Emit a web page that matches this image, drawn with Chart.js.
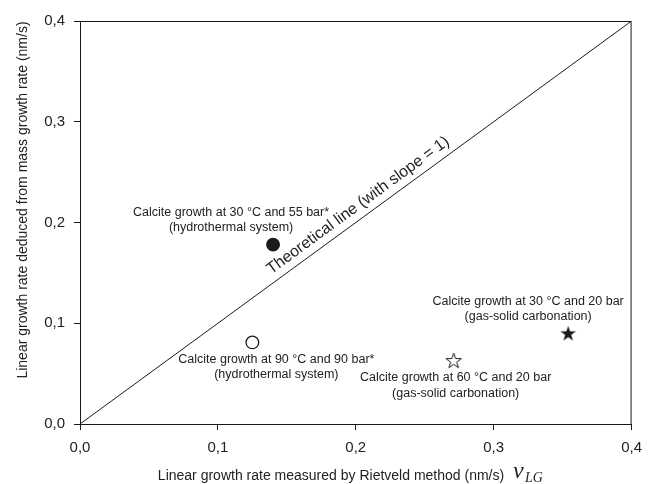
<!DOCTYPE html>
<html>
<head>
<meta charset="utf-8">
<script src="https://cdn.jsdelivr.net/npm/chart.js@4.4.0/dist/chart.umd.min.js"></script>
<style>
  html, body { margin: 0; padding: 0; background: #fff; }
  #wrap { width: 651px; height: 484px; }
</style>
</head>
<body>
<div id="wrap"><canvas id="chart" width="651" height="484"></canvas></div>
<script>
// data
const xTicks = [0, 0.1, 0.2, 0.3, 0.4];
const yTicks = [0, 0.1, 0.2, 0.3, 0.4];
const theoryX = [0, 0.4];
const theoryY = [0, 0.4];

const sampleX = [0.140, 0.125, 0.271, 0.354];
const sampleY = [0.178, 0.081, 0.063, 0.090];
const sampleLabels = [
    ['Calcite growth at 30 °C and 55 bar*', '(hydrothermal system)'],
    ['Calcite growth at 90 °C and 90 bar*', '(hydrothermal system)'],
    ['Calcite growth at 60 °C and 20 bar', '(gas-solid carbonation)'],
    ['Calcite growth at 30 °C and 20 bar', '(gas-solid carbonation)']
];

const xTitle = 'Linear growth rate measured by Rietveld method (nm/s)';
const yTitle = 'Linear growth rate deduced from mass growth rate (nm/s)';
const lineLabel = 'Theoretical line (with slope = 1)';

// label offsets from each marker, in pixels
const labelOffsets = [[-42, -32], [24, 17], [2, 17.5], [-40, -32]];

const INK = '#1a1a1a';
const TXT = '#222';
const SANS = '"Liberation Sans", Arial, sans-serif';
const SERIF = '"Liberation Serif", "Times New Roman", serif';

function makeStar(filled) {
    const c = document.createElement('canvas');
    c.width = 19; c.height = 19;
    const g = c.getContext('2d');
    const cx = 9.5, cy = 10.1, R = 8.1, r = 3.2;
    g.beginPath();
    for (let i = 0; i < 10; i++) {
        const a = -Math.PI / 2 + i * Math.PI / 5;
        const rr = i % 2 === 0 ? R : r;
        const px = cx + rr * Math.cos(a), py = cy + rr * Math.sin(a);
        if (i === 0) g.moveTo(px, py); else g.lineTo(px, py);
    }
    g.closePath();
    if (filled) {
        g.fillStyle = INK; g.fill();
    } else {
        g.fillStyle = '#fff'; g.fill();
        g.lineWidth = 1; g.strokeStyle = INK; g.stroke();
    }
    return c;
}

const fmt = v => v.toFixed(1).replace('.', ',');

const pointStyles = ['circle', 'circle', makeStar(false), makeStar(true)];
const pointFills = [INK, '#fff', INK, INK];

const markerSets = sampleX.map((x, i) => ({
    label: sampleLabels[i].join(' '),
    data: [{ x: x, y: sampleY[i] }],
    pointStyle: pointStyles[i],
    pointRadius: 6.3,
    pointBackgroundColor: pointFills[i],
    pointBorderColor: INK,
    pointBorderWidth: 1.3,
    showLine: false
}));

const extras = {
    id: 'extras',
    afterDraw(chart) {
        const { ctx, chartArea: a, scales: { x, y } } = chart;
        ctx.save();
        // box around plot
        ctx.strokeStyle = INK;
        ctx.lineWidth = 1;
        ctx.strokeRect(a.left + 0.5, a.top + 0.5, a.right - a.left - 1, a.bottom - a.top);

        // point labels
        ctx.fillStyle = TXT;
        ctx.font = '12.5px ' + SANS;
        ctx.textAlign = 'center';
        ctx.textBaseline = 'middle';
        sampleX.forEach((sx, i) => {
            const px = x.getPixelForValue(sx), py = y.getPixelForValue(sampleY[i]);
            const [dx, dy] = labelOffsets[i];
            sampleLabels[i].forEach((t, k) => ctx.fillText(t, px + dx, py + dy + k * 15.2));
        });

        // label along the 1:1 line
        const x0 = x.getPixelForValue(theoryX[0]), y0 = y.getPixelForValue(theoryY[0]);
        const x1 = x.getPixelForValue(theoryX[1]), y1 = y.getPixelForValue(theoryY[1]);
        const ang = Math.atan2(y1 - y0, x1 - x0);
        ctx.save();
        ctx.translate((x0 + x1) / 2, (y0 + y1) / 2);
        ctx.rotate(ang);
        ctx.font = '16px ' + SANS;
        ctx.textBaseline = 'alphabetic';
        ctx.fillText(lineLabel, 12, -8);
        ctx.restore();

        // axis titles
        ctx.font = '14px ' + SANS;
        ctx.textAlign = 'center';
        ctx.textBaseline = 'alphabetic';
        ctx.fillText(xTitle, 331, 480);
        ctx.textAlign = 'left';
        ctx.font = 'italic 24px ' + SERIF;
        ctx.fillText('v', 513, 478);
        ctx.font = 'italic 14px ' + SERIF;
        ctx.fillText('LG', 525, 482);

        ctx.save();
        ctx.translate(27, 200);
        ctx.rotate(-Math.PI / 2);
        ctx.textAlign = 'center';
        ctx.font = '14px ' + SANS;
        ctx.fillText(yTitle, 0, 0);
        ctx.restore();

        ctx.restore();
    }
};

const axisCommon = {
    type: 'linear',
    min: 0,
    max: 0.4,
    grid: { display: true, drawOnChartArea: false, drawTicks: true, tickLength: 6, color: INK, lineWidth: 1 },
    border: { display: true, color: INK, width: 1 },
    title: { display: false }
};

new Chart(document.getElementById('chart'), {
    type: 'scatter',
    data: {
        datasets: [{
            label: 'Theoretical line',
            data: theoryX.map((v, i) => ({ x: v, y: theoryY[i] })),
            showLine: true,
            borderColor: INK,
            borderWidth: 1,
            pointRadius: 0
        }, ...markerSets]
    },
    options: {
        responsive: false,
        animation: false,
        layout: { padding: { top: 21, right: 11, left: 0, bottom: 0 } },
        plugins: { legend: { display: false }, tooltip: { enabled: false } },
        scales: {
            x: {
                ...axisCommon,
                afterBuildTicks: s => { s.ticks = xTicks.map(v => ({ value: v })); },
                afterFit: s => { s.height = 60; },
                ticks: { callback: fmt, color: TXT, font: { family: SANS, size: 15 }, padding: 9, maxRotation: 0 }
            },
            y: {
                ...axisCommon,
                afterBuildTicks: s => { s.ticks = yTicks.map(v => ({ value: v })); },
                afterFit: s => { s.width = 80; },
                ticks: { callback: fmt, color: TXT, font: { family: SANS, size: 15 }, padding: 9 }
            }
        }
    },
    plugins: [extras]
});
</script>
</body>
</html>
